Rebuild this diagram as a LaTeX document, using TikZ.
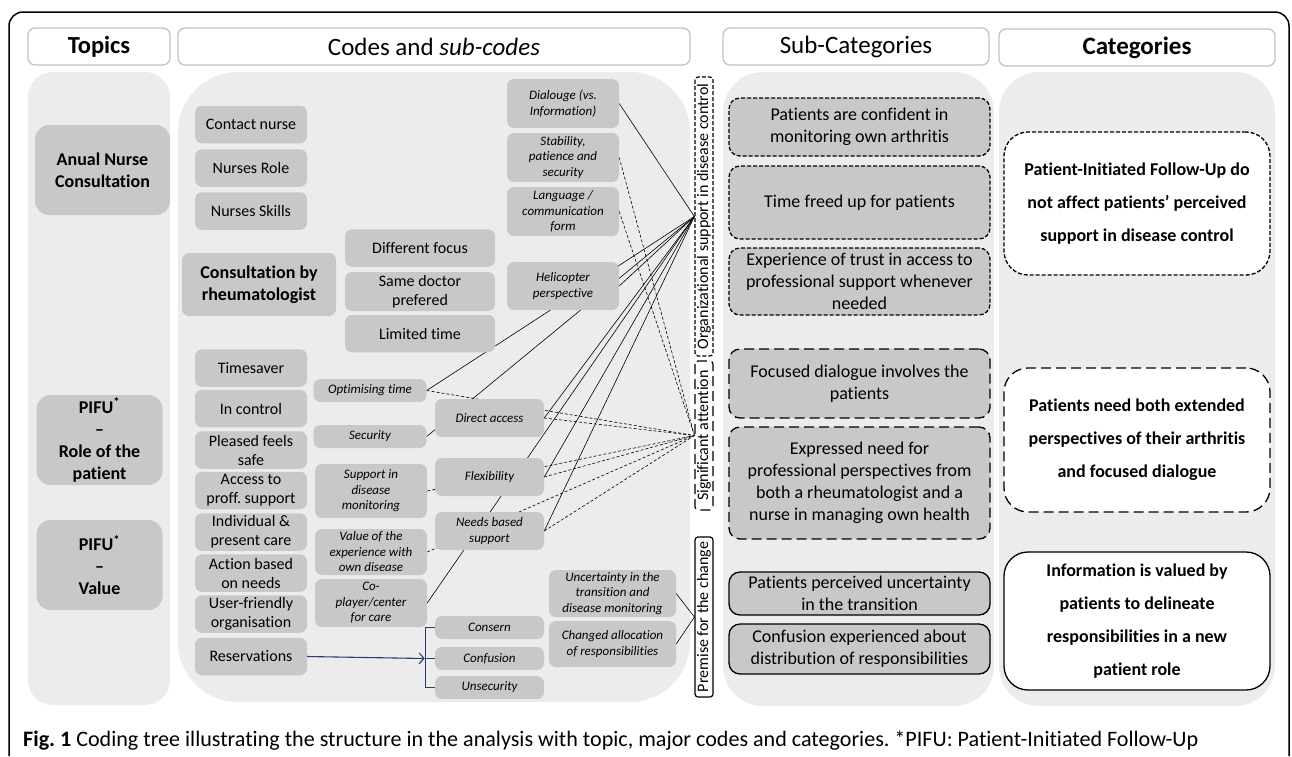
\documentclass[tikz,border=0pt]{standalone}
\usepackage{graphicx}
\usepackage{fontspec}
\setmainfont{Carlito}[Ligatures=NoCommon]
\usetikzlibrary{arrows.meta,calc}
\definecolor{colbg}{RGB}{236,236,236}
\definecolor{nodegray}{RGB}{200,200,200}
\definecolor{hdrline}{RGB}{195,195,195}
\definecolor{navy}{RGB}{40,60,110}
\pgfdeclarelayer{bg}
\pgfdeclarelayer{lines}
\pgfsetlayers{bg,lines,main}
\frenchspacing
\begin{document}
\begin{tikzpicture}[x=1pt,y=-1pt,
  hdr/.style={draw=hdrline,line width=1.3pt,fill=white,rounded corners=7pt,minimum height=37pt,inner sep=0pt,font=\fontsize{25}{28}\selectfont},
  topic/.style={fill=nodegray,rounded corners=14pt,align=center,inner sep=0pt,font=\fontsize{18}{22}\selectfont\bfseries},
  code/.style={fill=nodegray,rounded corners=7pt,align=center,inner sep=0pt,minimum width=112pt,minimum height=37.5pt,font=\fontsize{16}{19}\selectfont},
  sub/.style={fill=nodegray,rounded corners=7pt,align=center,inner sep=0pt,font=\fontsize{13}{15.5}\selectfont\itshape},
  subcat/.style={draw,fill=nodegray,rounded corners=11pt,line width=1.3pt,align=center,inner sep=0pt,minimum width=261pt,font=\fontsize{18}{22}\selectfont},
  cat/.style={draw,fill=white,rounded corners=24pt,line width=1.3pt,align=center,inner sep=0pt,minimum width=266pt,font=\fontsize{18}{33}\selectfont\bfseries},
  vlab/.style={draw,fill=white,rotate=90,inner sep=0pt,minimum height=18pt,line width=1.2pt,rounded corners=3pt,font=\fontsize{16}{18}\selectfont},
  fdash/.style={dash pattern=on 4pt off 2pt},
  ldash/.style={dash pattern=on 10pt off 5pt},
  conn/.style={line width=0.6pt},
  dconn/.style={line width=0.6pt,dash pattern=on 3pt off 2pt},
  navyline/.style={draw=navy,line width=1.1pt},
]
\useasboundingbox (0,0) rectangle (1292,756);

% outer frame
\draw[line width=1.5pt,rounded corners=14pt] (9,756) -- (9,12) -- (1289,12) -- (1289,756);

% column backgrounds
\begin{pgfonlayer}{bg}
\fill[colbg,rounded corners=25pt] (28,72) rectangle (170,705);
\fill[colbg,rounded corners=60pt] (178,72) rectangle (690,702);
\fill[colbg,rounded corners=40pt] (723,72) rectangle (994,706);
\fill[colbg,rounded corners=40pt] (999,72) rectangle (1275,706);
\end{pgfonlayer}

% headers
\node[hdr,minimum width=142pt,font=\fontsize{24.5}{28}\selectfont\bfseries] (hTop) at (99,46.5) {Topics};
\node[hdr,minimum width=512pt] (hCod) at (434,46.5) {Codes and \textit{sub-codes}};
\node[hdr,minimum width=266pt] (hSub) at (856,46.5) {Sub-Categories};
\node[hdr,minimum width=276pt,font=\fontsize{25}{28}\selectfont\bfseries] (hCat) at (1137,47.5) {Categories};

% topics
\node[topic,minimum width=135pt,minimum height=90pt] (tAnc) at (102.5,170) {Anual Nurse\\Consultation};
\node[topic,minimum width=126pt,minimum height=90pt] (tRole) at (99.5,440) {PIFU\textsuperscript{*}\\–\\Role of the\\patient};
\node[topic,minimum width=126pt,minimum height=90pt] (tVal) at (99.5,565) {PIFU\textsuperscript{*}\\–\\Value};

% codes, first column
\node[code] (cnurse) at (251,124.5) {Contact nurse};
\node[code] (nrole) at (251,168) {Nurses Role};
\node[code] (nskill) at (251,211) {Nurses Skills};
\node[code,minimum width=154pt,minimum height=63pt,font=\fontsize{18}{22}\selectfont\bfseries] (consr) at (259,284.5) {Consultation by\\rheumatologist};
\node[code,minimum width=150pt] (dfocus) at (420,248) {Different focus};
\node[code,minimum width=150pt,minimum height=39pt] (sdoc) at (420,291.5) {Same doctor\\prefered};
\node[code,minimum width=150pt] (ltime) at (420,333.5) {Limited time};
\node[code] (tsave) at (251,368) {Timesaver};
\node[code] (inctl) at (251,408.5) {In control};
\node[code] (pleas) at (251,450) {Pleased feels\\safe};
\node[code] (acc) at (251,490.5) {Access to\\proff. support};
\node[code] (indiv) at (251,532) {Individual \&\\present care};
\node[code] (action) at (251,573) {Action based\\on needs};
\node[code] (userf) at (251,614) {User-friendly\\organisation};
\node[code] (resv) at (251,656.5) {Reservations};

% sub-codes, second column
\node[sub,minimum width=113pt,minimum height=23pt] (opt) at (370,390.5) {Optimising time};
\node[sub,minimum width=113pt,minimum height=23pt] (secu) at (370,436.5) {Security};
\node[sub,minimum width=112pt,minimum height=54pt] (supp) at (371,491) {Support in\\disease\\monitoring};
\node[sub,minimum width=112pt,minimum height=46pt] (value) at (371,552) {Value of the\\experience with\\own disease};
\node[sub,minimum width=112pt,minimum height=48pt] (coplay) at (371,603) {Co-\\player/center\\for care};

% sub-codes, third column
\node[sub,minimum width=109pt,minimum height=38pt] (dacc) at (489.5,418) {Direct access};
\node[sub,minimum width=109pt,minimum height=38pt] (flex) at (489.5,477) {Flexibility};
\node[sub,minimum width=109pt,minimum height=38pt] (needs) at (489.5,531) {Needs based\\support};
\node[sub,minimum width=109pt,minimum height=23pt] (cons) at (489.5,627.5) {Consern};
\node[sub,minimum width=109pt,minimum height=23pt] (conf) at (489.5,658.5) {Confusion};
\node[sub,minimum width=109pt,minimum height=23pt] (unsec) at (489.5,687.5) {Unsecurity};

% sub-codes, top right
\node[sub,minimum width=112pt,minimum height=49pt] (dial) at (563,103.5) {Dialouge (vs.\\Information)};
\node[sub,minimum width=112pt,minimum height=49pt] (stab) at (563,157.5) {Stability,\\patience and\\security};
\node[sub,minimum width=112pt,minimum height=49pt] (lang) at (563,211.5) {Language /\\communication\\form};
\node[sub,minimum width=112pt,minimum height=48pt] (heli) at (563,286) {Helicopter\\perspective};
\node[sub,minimum width=127pt,minimum height=47pt] (unc) at (612.5,593.5) {Uncertainty in the\\transition and\\disease monitoring};
\node[sub,minimum width=127pt,minimum height=46pt] (chg) at (612.5,644) {Changed allocation\\of responsibilities};

% vertical labels
\node[vlab,fdash,minimum width=279pt] (org) at (704,216.5) {Organizational support in disease control};
\node[vlab,ldash,minimum width=149pt] (sig) at (704,435.5) {Significant attention};
\node[vlab,minimum width=160pt] (prem) at (704,617) {Premise for the change};

% sub-categories
\node[subcat,fdash,minimum height=58pt] (sc1) at (859.5,127) {Patients are confident in\\monitoring own arthritis};
\node[subcat,fdash,minimum height=73pt] (sc2) at (859.5,202.5) {Time freed up for patients};
\node[subcat,fdash,minimum height=67pt] (sc3) at (859.5,281.5) {Experience of trust in access to\\professional support whenever\\needed};
\node[subcat,ldash,minimum height=69pt] (sc4) at (859.5,383.5) {Focused dialogue involves the\\patients};
\node[subcat,ldash,minimum height=112pt] (sc5) at (859.5,483) {Expressed need for\\professional perspectives from\\both a rheumatologist and a\\nurse in managing own health};
\node[subcat,minimum height=43pt] (sc6) at (859.5,593.5) {Patients perceived uncertainty\\in the transition};
\node[subcat,minimum height=50pt] (sc7) at (859.5,649) {Confusion experienced about\\distribution of responsibilities};

% categories
\node[cat,fdash,minimum height=143pt] (cat1) at (1137,203.5) {Patient-Initiated Follow-Up do\\not affect patients’ perceived\\support in disease control};
\node[cat,ldash,minimum height=144pt] (cat2) at (1137,440) {Patients need both extended\\perspectives of their arthritis\\and focused dialogue};
\node[cat,minimum height=138pt] (cat3) at (1137,621) {Information is valued by\\patients to delineate\\responsibilities in a new\\patient role};

% connectors
\begin{pgfonlayer}{lines}
\foreach \s in {dial,heli,opt,secu,coplay,dacc,flex,needs}
  \draw[conn] (\s.east) -- (org.north);
\foreach \s in {stab,lang,opt,dacc,supp,flex,value,needs}
  \draw[dconn] (\s.east) -- (sig.north);
\draw[conn] (unc.east) -- (prem.north);
\draw[conn] (chg.east) -- (prem.north);
\end{pgfonlayer}

% reservations bracket
\draw[navyline,-{Straight Barb[length=5pt,width=11pt]}] (resv.east) -- ($(conf.west)+(-10,0)$);
\draw[navyline] (cons.west) -- ++(-9,0) |- (unsec.west);
\draw[navyline] (conf.west) -- ++(-9,0);

% caption
\node[anchor=west,inner sep=0pt] (cap) at (23,741) {\resizebox{1175pt}{!}{\fontsize{19}{22}\selectfont\textbf{Fig. 1} Coding tree illustrating the structure in the analysis with topic, major codes and categories. *PIFU: Patient-Initiated Follow-Up}};
\end{tikzpicture}
\end{document}
